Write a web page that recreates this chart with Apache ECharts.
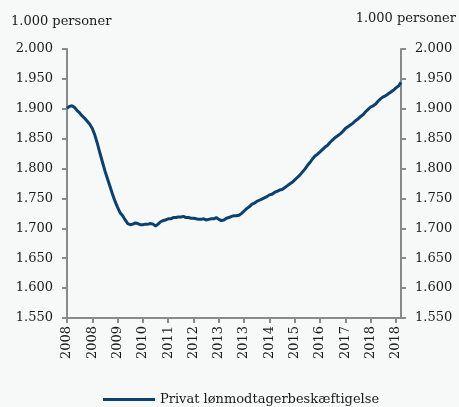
<!DOCTYPE html>
<html>
<head>
<meta charset="utf-8">
<script src="https://cdn.jsdelivr.net/npm/echarts@6/dist/echarts.min.js"></script>
<style>
html,body{margin:0;padding:0;background:#f7f9f9;}
#c{width:459px;height:407px;}
</style>
</head>
<body>
<div id="c"></div>
<script>
// Monthly observations, Jan 2008 onwards (1.000 persons)
const startYear = 2008;
const values = [
 1901,1904,1905,1902,1897,1893,1888,1884,1879,1874,
 1867,1856,1842,1826,1811,1796,1783,1770,1757,1745,
 1735,1726,1721,1714,1708,1706,1707,1709,1708,1706,
 1706,1707,1707,1708,1707,1704,1707,1711,1713,1714,
 1716,1716,1718,1718,1719,1719,1720,1718,1718,1717,
 1717,1716,1715,1715,1716,1714,1715,1716,1716,1718,
 1715,1713,1714,1717,1718,1720,1721,1721,1722,1725,
 1729,1733,1736,1740,1742,1745,1747,1749,1751,1753,
 1756,1757,1760,1762,1764,1765,1768,1771,1774,1777,
 1781,1785,1789,1794,1799,1805,1810,1816,1821,1824,
 1828,1832,1836,1839,1844,1848,1852,1855,1858,1862,
 1867,1870,1873,1876,1880,1883,1887,1890,1895,1899,
 1903,1905,1908,1913,1917,1920,1922,1925,1928,1931,
 1935,1938,1944
];
const categories = values.map((v, i) => String(startYear + Math.floor(i / 12)));
const seriesName = 'Privat lønmodtagerbeskæftigelse';
const unitLabel = '1.000 personer';
const yMin = 1550, yMax = 2000, yStep = 50;

const fmt = v => {
  const s = String(Math.round(v));
  return s.length > 3 ? s.slice(0, s.length - 3) + '.' + s.slice(-3) : s;
};

const font = 'DejaVu Serif';
const axisColor = '#8a8a8a';
const textColor = '#1a1a1a';

const chart = echarts.init(document.getElementById('c'), null, {renderer: 'canvas'});
const yAxisCommon = {
  type: 'value', min: yMin, max: yMax, interval: yStep,
  splitLine: {show: false},
  axisLine: {show: true, lineStyle: {color: axisColor, width: 2}},
  axisTick: {show: true, length: 5, lineStyle: {color: axisColor, width: 2}},
  axisLabel: {formatter: fmt, color: textColor, fontFamily: font, fontSize: 13, margin: 14}
};
chart.setOption({
  backgroundColor: '#f7f9f9',
  animation: false,
  graphic: [
    {type: 'text', left: 11, top: 15, style: {text: unitLabel, fill: textColor, font: '13px "DejaVu Serif"'}},
    {type: 'text', right: 3, top: 12, style: {text: unitLabel, fill: textColor, font: '13px "DejaVu Serif"'}}
  ],
  grid: {left: 67, right: 58, top: 49, bottom: 89, containLabel: false},
  xAxis: {
    type: 'category', data: categories, boundaryGap: false,
    axisLine: {show: true, onZero: false, lineStyle: {color: axisColor, width: 2}},
    axisTick: {show: true, interval: 9, length: 5, lineStyle: {color: axisColor, width: 2}},
    axisLabel: {interval: 9, rotate: 90, color: textColor, fontFamily: font, fontSize: 13, margin: 8}
  },
  yAxis: [
    Object.assign({position: 'left'}, yAxisCommon),
    Object.assign({position: 'right'}, yAxisCommon)
  ],
  legend: {
    top: 388, left: 98, itemWidth: 52, itemHeight: 3, icon: 'rect',
    textStyle: {color: textColor, fontFamily: font, fontSize: 13},
    data: [seriesName]
  },
  series: [{
    name: seriesName, type: 'line', data: values, yAxisIndex: 0,
    showSymbol: false, smooth: false,
    lineStyle: {color: '#0b406f', width: 3},
    itemStyle: {color: '#0b406f'}
  }]
});
</script>
</body>
</html>
